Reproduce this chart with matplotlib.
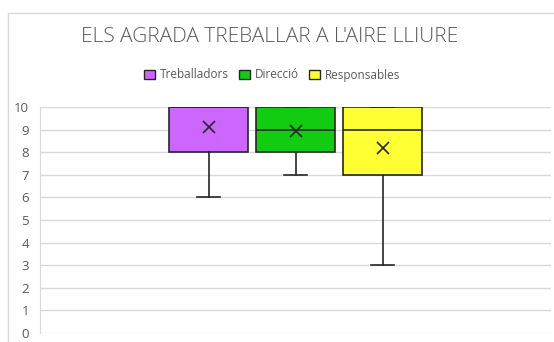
import matplotlib.pyplot as plt
from matplotlib.patches import Patch, Rectangle

# Dades (llegides del grafic)
series = ["Treballadors", "Direcció", "Responsables"]
colors = ["#CC66FF", "#11CC11", "#FFFF33"]
q1 = [8, 8, 7]
median = [10, 9, 9]
q3 = [10, 10, 10]
whislo = [6, 7, 3]
whishi = [10, 10, 10]
means = [9.12, 8.94, 8.17]
yticks = list(range(0, 11))

fig = plt.figure(figsize=(5.54, 3.42), dpi=100)
ax = fig.add_axes([40 / 554, 1 - 333 / 342, 511 / 554, 226 / 342])

# marc de l'area del grafic
fig.patches.append(Rectangle((8 / 554, -0.1), 1.2, 1 - 13 / 342 + 0.1,
                             transform=fig.transFigure, fill=False,
                             edgecolor="#D9D9D9", linewidth=1))

stats = []
for i in range(len(series)):
    stats.append({"label": series[i], "q1": q1[i], "med": median[i], "q3": q3[i],
                  "whislo": whislo[i], "whishi": whishi[i], "mean": means[i]})

positions = [1, 2, 3]
bp = ax.bxp(stats, positions=positions, widths=79 / 87, patch_artist=True,
            showmeans=True, showfliers=False,
            boxprops=dict(edgecolor="#262626", linewidth=1.2),
            medianprops=dict(color="#262626", linewidth=1.2),
            whiskerprops=dict(color="#262626", linewidth=1.2),
            capprops=dict(color="#262626", linewidth=1.2),
            meanprops=dict(marker="x", markeredgecolor="#262626",
                           markersize=8, markeredgewidth=1.2),
            capwidths=23 / 87, zorder=3)
for box, c in zip(bp["boxes"], colors):
    box.set_facecolor(c)

ax.set_xlim(2 - 255.5 / 87, 2 + 255.5 / 87)
ax.set_ylim(0, 10)
ax.set_yticks(yticks)
ax.set_xticks([])
ax.yaxis.grid(True, color="#D9D9D9", linewidth=1)
ax.set_axisbelow(True)
for s in ["top", "right", "bottom"]:
    ax.spines[s].set_visible(False)
ax.spines["left"].set_color("#D9D9D9")
ax.tick_params(axis="y", length=0, pad=8, labelsize=9.5, labelcolor="#595959")
for lab in ax.get_yticklabels():
    lab.set_fontfamily("Open Sans")

fig.text(270 / 554, 1 - 37 / 342, "ELS AGRADA TREBALLAR A L'AIRE LLIURE",
         ha="center", va="center", fontsize=15, color="#595959",
         family="Open Sans", fontweight="light")

handles = [Patch(facecolor=c, edgecolor="#262626", linewidth=1) for c in colors]
fig.legend(handles, series, loc="center", bbox_to_anchor=(272 / 554, 1 - 75 / 342),
           ncol=3, frameon=False, handlelength=0.9, handleheight=0.9,
           handletextpad=0.4, columnspacing=0.9, labelcolor="#595959",
           prop={"family": "Open Sans", "size": 8.5})

fig.savefig("out.png", dpi=100)
